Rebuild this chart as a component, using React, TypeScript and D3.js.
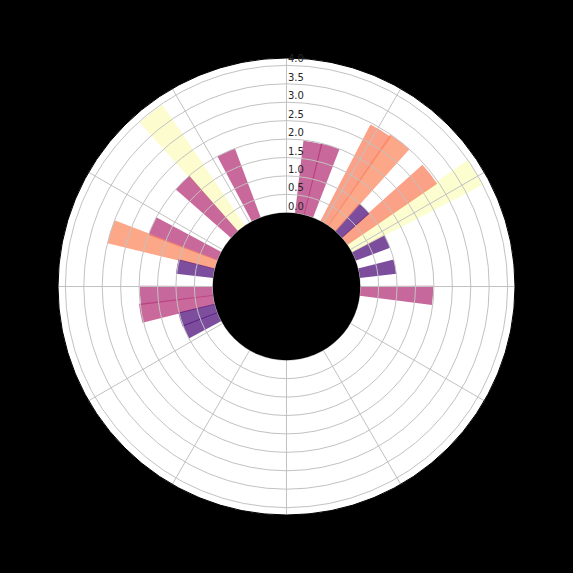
import React from "react";
import * as d3 from "d3";

// ---- data ----
const slotCount = 52; // angular slots around the circle, counter-clockwise from east
const barSlots = [1, 3, 4, 5, 6, 7, 8, 10, 11, 16, 18, 19, 22, 23, 24, 26, 27, 28, 29, 51];
const barValues = [1.0, 1.0, 4.0, 2.95, 1.0, 3.0, 2.95, 2.0, 1.98, 2.0, 3.97, 2.0, 2.0, 3.0, 1.02, 1.98, 2.03, 1.02, 1.0, 1.98];
const radialTicks = [0, 0.5, 1, 1.5, 2, 2.5, 3, 3.5, 4];
const angleGridDeg = [0, 30, 60, 90, 120, 150, 180, 210, 240, 270, 300, 330];
const rOrigin = -2;
const rMax = 4.2;
const colorMax = 4;

const W = 573;
const H = 573;
const cx = 286.5;
const cy = 286.5;
const outerR = 228.5;

export default function App() {
  const r = d3.scaleLinear().domain([rOrigin, rMax]).range([0, outerR]);
  const theta = d3.scaleLinear().domain([0, slotCount]).range([0, 2 * Math.PI]);
  const color = (v: number) => d3.interpolateMagma(Math.min(1, v / colorMax));
  const overlap = (0.3 * Math.PI) / 180;
  const holeR = r(0);

  const arc = d3.arc<any>();

  const bars = barSlots.map((s, i) => {
    const a1 = theta(s) - overlap;
    const a2 = theta(s + 1) + overlap;
    const v = barValues[i];
    const d = arc({
      innerRadius: holeR,
      outerRadius: r(v),
      startAngle: Math.PI / 2 - a2,
      endAngle: Math.PI / 2 - a1,
    }) as string;
    return <path key={i} d={d} fill={color(v)} fillOpacity={0.75} />;
  });

  return (
    <svg
      width={W}
      height={H}
      style={{ position: "absolute", left: 0, top: 0, display: "block" }}
    >
      <rect x={0} y={0} width={W} height={H} fill="#000" />
      <g transform={`translate(${cx},${cy})`}>
        <circle r={outerR} fill="#fff" />
        {bars}
        {radialTicks.map((t) => (
          <circle key={"c" + t} r={r(t)} fill="none" stroke="#c2c2c2" strokeWidth={1} />
        ))}
        {angleGridDeg.map((a) => {
          const rad = (a * Math.PI) / 180;
          return (
            <line
              key={"l" + a}
              x1={holeR * Math.cos(rad)}
              y1={-holeR * Math.sin(rad)}
              x2={outerR * Math.cos(rad)}
              y2={-outerR * Math.sin(rad)}
              stroke="#c2c2c2"
              strokeWidth={1}
            />
          );
        })}
        <circle r={holeR} fill="#000" />
        <circle r={outerR} fill="none" stroke="#000" strokeWidth={1} />
        {radialTicks.map((t) => (
          <text
            key={"t" + t}
            x={1.5}
            y={-r(t) - 3}
            fontFamily="DejaVu Sans"
            fontSize={10}
            fill="#262626"
          >
            {t.toFixed(1)}
          </text>
        ))}
      </g>
    </svg>
  );
}
